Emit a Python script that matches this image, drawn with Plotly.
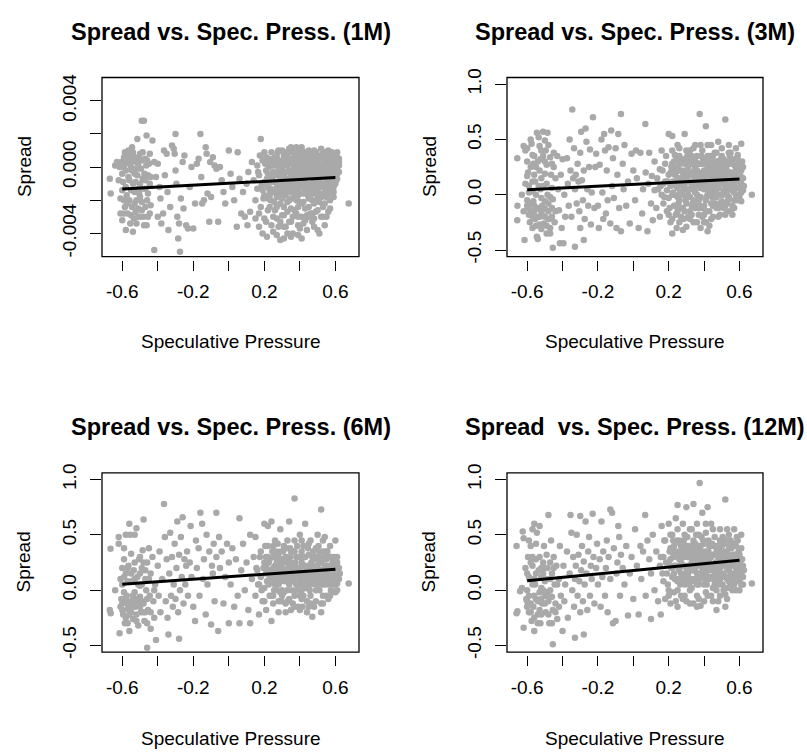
import plotly.graph_objects as go

# ---------------- data ----------------
fit_x = [-0.6, 0.6]
fit_1m = [-0.00132, -0.00063]
fit_3m = [0.046, 0.143]
fit_6m = [0.053, 0.19]
fit_12m = [0.085, 0.27]

x_ticks = [-0.6, -0.4, -0.2, 0.0, 0.2, 0.4, 0.6]
x_labels = ["-0.6", "", "-0.2", "", "0.2", "", "0.6"]
y_ticks_1m = [-0.004, -0.002, 0.0, 0.002, 0.004]
y_labels_1m = ["-0.004", "", "0.000", "", "0.004"]
y_ticks = [-0.5, 0.0, 0.5, 1.0]
y_labels = ["-0.5", "0.0", "0.5", "1.0"]

titles = ["Spread vs. Spec. Press. (1M)", "Spread vs. Spec. Press. (3M)",
          "Spread vs. Spec. Press. (6M)", "Spread\u00a0 vs. Spec. Press. (12M)"]

spread_1m = [
    (-0.67,-0.0007),(-0.665,-0.0016),(-0.64,0.0001),(-0.63,0.0003),(-0.615,0.0000),(-0.61,-0.0028),(-0.59,-0.0028),
    (-0.57,-0.0028),(-0.585,0.0009),(-0.6,-0.0004),(-0.595,-0.0009),(-0.58,-0.0012),(-0.575,-0.0017),(-0.59,-0.0020),
    (-0.565,-0.0006),(-0.56,0.0002),(-0.555,0.0005),(-0.545,-0.0002),(-0.54,-0.0010),(-0.53,-0.0015),(-0.545,-0.0024),
    (-0.535,-0.0031),(-0.525,-0.0027),(-0.52,-0.0020),(-0.515,-0.0005),(-0.51,0.0001),(-0.505,0.0006),(-0.5,-0.0010),
    (-0.495,-0.0001),(-0.49,0.0004),(-0.485,-0.0007),(-0.48,-0.0030),(-0.477,-0.0035),(-0.463,-0.0035),(-0.58,-0.0038),
    (-0.54,-0.0039),(-0.555,-0.0034),(-0.51,-0.0025),(-0.5,-0.0018),(-0.47,-0.0013),(-0.46,-0.0020),(-0.455,-0.0005),
    (-0.45,0.0002),(-0.445,-0.0010),(-0.44,-0.0023),(-0.515,0.0017),(-0.49,0.0028),(-0.478,0.0028),(-0.463,0.0019),
    (-0.43,0.0016),(-0.575,0.0004),(-0.56,0.0007),(-0.54,0.0009),(-0.52,0.0003),(-0.5,0.0008),(-0.47,0.0005),
    (-0.465,0.0001),(-0.475,-0.0004),(-0.6,-0.0014),(-0.61,-0.0019),(-0.585,-0.0024),(-0.56,-0.0020),(-0.55,-0.0014),
    (-0.525,-0.0009),(-0.53,0.0006),(-0.545,0.0012),(-0.565,0.0010),(-0.59,0.0006),(-0.605,0.0003),(-0.62,-0.0008),
    (-0.6,-0.0032),(-0.52,-0.0034),(-0.5,-0.0030),(-0.49,-0.0021),(-0.445,-0.0028),(-0.455,-0.0016),(-0.44,-0.0006),
    (-0.6,0.0000),(-0.58,-0.0002),(-0.56,-0.0008),(-0.55,0.0000),(-0.53,-0.0004),(-0.51,-0.0013),(-0.49,-0.0013),
    (-0.47,-0.0008),(-0.46,0.0004),(-0.57,-0.0022),(-0.55,-0.0029),(-0.53,-0.0022),(-0.51,-0.0030),(-0.49,-0.0026),
    (-0.47,-0.0024),(-0.59,0.0001),(-0.57,0.0008),(-0.55,0.0003),(-0.52,-0.0001),(-0.505,-0.0016),(-0.485,0.0009),
    (-0.455,-0.0030),(-0.445,0.0008),
    (-0.42,-0.0050),(-0.42,0.0003),(-0.41,-0.0006),(-0.4,0.0002),(-0.39,-0.0012),(-0.385,-0.0019),(-0.4,-0.0030),
    (-0.38,-0.0034),(-0.37,-0.0028),(-0.365,0.0010),(-0.35,0.0008),(-0.36,-0.0005),(-0.345,-0.0015),(-0.34,-0.0038),
    (-0.33,-0.0024),(-0.32,0.0013),(-0.31,0.0011),(-0.30,0.0020),(-0.305,0.0008),(-0.3,-0.0002),(-0.295,-0.0010),
    (-0.29,-0.0030),(-0.285,-0.0043),(-0.275,-0.0051),(-0.28,-0.0034),(-0.27,-0.0019),(-0.26,0.0003),(-0.25,0.0007),
    (-0.255,-0.0025),(-0.24,-0.0035),(-0.23,-0.0037),(-0.22,-0.0012),(-0.21,0.0000),(-0.2,-0.0037),(-0.19,-0.0022),
    (-0.18,0.0002),(-0.17,0.0005),(-0.16,0.0020),(-0.155,-0.0006),(-0.15,-0.0022),(-0.14,-0.0020),(-0.13,0.0012),
    (-0.125,0.0008),(-0.12,-0.0016),(-0.11,-0.0033),(-0.105,0.0003),(-0.1,-0.0018),(-0.09,0.0006),(-0.08,0.0001),
    (-0.07,-0.0001),(-0.06,-0.0033),(-0.05,0.0000),(-0.04,-0.0008),(-0.03,-0.0015),(-0.02,-0.0022),(0.0,0.0010),
    (0.01,-0.0004),(0.02,-0.0012),(0.03,-0.0020),(0.045,-0.0036),(0.05,0.0009),(0.06,-0.0007),(0.07,-0.0028),
    (0.08,-0.0015),(0.09,-0.0030),(0.1,-0.0010),(0.105,-0.0035),(0.11,-0.0003),(0.12,-0.0027),
    (0.13,0.0003),(0.14,-0.0008),(0.15,-0.0020),(0.15,-0.0031),(0.16,0.0001),(0.16,-0.0013),(0.17,-0.0036),
    (0.17,-0.0005),(0.18,0.0017),(0.18,-0.0024),(0.19,-0.0040),(0.19,0.0004),(0.2,-0.0009),(0.2,-0.0017),
    (0.2,-0.0031),(0.21,0.0006),(0.21,-0.0002),(0.215,-0.0042),(0.22,-0.0026),(0.22,-0.0012),(0.23,0.0002),
    (0.23,-0.0006),(0.235,-0.0020),(0.24,-0.0035),(0.24,0.0009),(0.25,-0.0015),(0.25,-0.0003),(0.25,-0.0039),
    (0.26,0.0006),(0.26,-0.0009),(0.26,-0.0026),(0.27,0.0002),(0.27,-0.0018),(0.27,-0.0031),(0.28,0.0010),
    (0.28,-0.0005),(0.28,-0.0013),(0.29,-0.0044),(0.29,-0.0022),(0.29,0.0003),(0.3,-0.0008),(0.3,-0.0001),
    (0.3,-0.0029),(0.31,0.0007),(0.31,-0.0016),(0.31,-0.0036),(0.32,-0.0003),(0.32,-0.0011),(0.32,0.0004),
    (0.33,-0.0021),(0.33,0.0001),(0.33,-0.0007),(0.34,0.0011),(0.34,-0.0033),(0.34,-0.0014),(0.35,-0.0004),
    (0.35,0.0005),(0.35,-0.0025),(0.36,-0.0010),(0.36,0.0002),(0.36,-0.0040),(0.37,-0.0018),(0.37,-0.0002),
    (0.37,0.0008),(0.38,0.0012),(0.38,-0.0006),(0.38,-0.0028),(0.39,-0.0013),(0.39,0.0003),(0.39,-0.0035),
    (0.4,-0.0001),(0.4,-0.0021),(0.4,0.0006),(0.41,-0.0008),(0.41,0.0012),(0.41,-0.0030),(0.42,-0.0003),
    (0.42,-0.0016),(0.42,0.0001),(0.43,-0.0025),(0.43,0.0004),(0.43,-0.0010),(0.44,-0.0038),(0.44,-0.0005),
    (0.44,0.0008),(0.45,-0.0019),(0.45,0.0000),(0.45,-0.0012),(0.46,0.0003),(0.46,-0.0028),(0.46,-0.0006),
    (0.47,-0.0015),(0.47,0.0006),(0.47,-0.0033),(0.48,-0.0002),(0.48,-0.0009),(0.48,-0.0022),(0.49,0.0002),
    (0.49,-0.0004),(0.49,0.0009),(0.5,-0.0014),(0.5,-0.0001),(0.5,-0.0026),(0.51,0.0005),(0.51,-0.0008),
    (0.51,-0.0040),(0.52,0.0011),(0.52,-0.0003),(0.52,-0.0018),(0.53,0.0001),(0.53,-0.0011),(0.53,-0.0030),
    (0.54,0.0004),(0.54,-0.0005),(0.54,-0.0022),(0.55,0.0008),(0.55,-0.0001),(0.55,-0.0013),(0.56,0.0002),
    (0.56,-0.0007),(0.56,-0.0027),(0.57,0.0006),(0.57,-0.0003),(0.57,-0.0016),(0.58,0.0000),(0.58,-0.0009),
    (0.58,0.0009),(0.59,0.0004),(0.59,-0.0005),(0.59,-0.0012),(0.6,0.0002),(0.6,-0.0002),(0.61,0.0006),
    (0.61,-0.0004),(0.62,0.0001),(0.62,-0.0003),(0.675,-0.0022),
    (0.27,0.0006),(0.3,0.0004),(0.33,0.0008),(0.36,0.0005),(0.39,0.0009),(0.42,0.0006),(0.45,0.0010),
    (0.48,0.0005),(0.5,0.0007),(0.53,0.0008),(0.56,0.0010),(0.58,0.0004),(0.6,0.0007),(0.4,0.0011),
    (0.35,0.0012),(0.28,-0.0002),(0.31,-0.0004),(0.34,-0.0002),(0.37,-0.0009),(0.4,-0.0011),(0.43,-0.0002),
    (0.46,-0.0002),(0.49,-0.0012),(0.52,-0.0006),(0.55,-0.0009),(0.58,-0.0003),(0.61,0.0000),(0.31,-0.0024),
    (0.35,-0.0019),(0.39,-0.0024),(0.42,-0.0034),(0.45,-0.0030),(0.48,-0.0031),(0.44,-0.0014),(0.38,-0.0015),
    (0.32,-0.0017),(0.26,-0.0014),(0.24,-0.0004),(0.22,-0.0019),(0.54,-0.0035),(0.57,-0.0025),(0.5,-0.0038),
    (0.41,-0.0043),(0.33,-0.0040),(0.28,-0.0036),
    (0.165,-0.0003),(0.175,0.0007),(0.185,-0.0011),(0.195,-0.0019),(0.205,0.0002),(0.215,-0.0007),(0.225,0.0005),
    (0.235,-0.0013),(0.245,0.0001),(0.255,-0.0021),(0.265,-0.0004),(0.275,0.0009),(0.285,-0.0010),(0.295,-0.0016),
    (0.305,0.0001),(0.315,-0.0008),(0.325,0.0009),(0.335,-0.0013),(0.345,0.0003),(0.355,-0.0007),(0.365,-0.0014),
    (0.375,0.0003),(0.385,-0.0020),(0.395,-0.0006),(0.405,0.0003),(0.415,-0.0012),(0.425,0.0009),(0.435,-0.0004),
    (0.445,-0.0017),(0.455,0.0005),(0.465,-0.0010),(0.475,0.0001),(0.485,-0.0016),(0.495,-0.0007),(0.505,0.0003),
    (0.515,-0.0012),(0.525,0.0006),(0.535,-0.0002),(0.545,-0.0010),(0.555,0.0004),(0.565,-0.0005),(0.575,0.0001),
    (0.585,-0.0013),(0.595,0.0006),(0.605,-0.0008),(0.615,0.0003),
    (0.17,-0.0028),(0.19,-0.0014),(0.21,-0.0033),(0.23,-0.0024),(0.25,-0.0030),(0.27,-0.0024),(0.29,-0.0033),
    (0.31,-0.0029),(0.33,-0.0027),(0.35,-0.0033),(0.37,-0.0026),(0.39,-0.0030),(0.41,-0.0022),(0.43,-0.0032),
    (0.45,-0.0024),(0.47,-0.0028),(0.49,-0.0027),(0.51,-0.0021),(0.53,-0.0024),(0.55,-0.0030),(0.57,-0.0020),
    (0.59,-0.0018),(0.6,-0.0010),(0.62,0.0005),
    (0.2,0.0009),(0.22,0.0003),(0.24,0.0004),(0.26,0.0001),(0.28,0.0004),(0.3,0.0010),(0.32,0.0008),(0.34,0.0005),
    (0.36,0.0009),(0.38,0.0006),(0.4,0.0003),(0.42,0.0009),(0.44,0.0003),(0.46,0.0008),(0.48,0.0010),(0.5,0.0003),
    (0.52,0.0007),(0.54,0.0009),(0.56,0.0006),(0.58,0.0006),(0.6,0.0004),(0.61,0.0009),
    (0.3,-0.0019),(0.34,-0.0020),(0.38,-0.0020),(0.42,-0.0021),(0.46,-0.0017),(0.5,-0.0019),(0.54,-0.0015),
    (0.58,-0.0016),(0.32,-0.0036),(0.36,-0.0030),(0.4,-0.0037),(0.44,-0.0029),(0.48,-0.0036),(0.52,-0.0030),
    (0.27,-0.0041),(0.31,-0.0043),(0.35,-0.0042),(0.39,-0.0041),
    (0.21,-0.0010),(0.22,-0.0004),(0.23,-0.0014),(0.24,-0.0009),(0.25,0.0005),(0.26,-0.0005),(0.27,-0.0012),
    (0.28,-0.0009),(0.29,-0.0006),(0.3,-0.0013),(0.31,-0.0011),(0.32,-0.0007),(0.33,-0.0003),(0.34,-0.0009),
    (0.35,-0.0015),(0.36,-0.0003),(0.37,-0.0013),(0.38,-0.0010),(0.39,-0.0003),(0.4,-0.0016),(0.41,-0.0004),
    (0.42,-0.0008),(0.43,-0.0006),(0.44,-0.0010),(0.45,-0.0004),(0.46,-0.0012),(0.47,-0.0004),(0.48,-0.0014),
    (0.49,-0.0009),(0.5,-0.0005),(0.51,-0.0001),(0.52,-0.0010),(0.53,-0.0006),(0.54,-0.0012),(0.55,-0.0005),
    (0.56,-0.0012),(0.57,-0.0008),(0.58,-0.0006),(0.59,-0.0009),(0.6,-0.0005),(0.61,-0.0007),(0.62,0.0003),
    (0.225,0.0000),(0.245,-0.0007),(0.265,0.0004),(0.285,0.0001),(0.305,-0.0005),(0.325,0.0003),(0.345,-0.0010),
    (0.365,0.0001),(0.385,0.0000),(0.405,-0.0009),(0.425,-0.0001),(0.445,0.0002),(0.465,0.0007),(0.485,0.0004),
    (0.505,-0.0009),(0.525,0.0000),(0.545,0.0001),(0.565,0.0008),(0.585,0.0002),(0.605,0.0000),
    (0.23,-0.0017),(0.27,-0.0015),(0.31,-0.0013),(0.35,-0.0012),(0.39,-0.0017),(0.43,-0.0014),(0.47,-0.0020),
    (0.51,-0.0016),(0.55,-0.0018),(0.59,-0.0015),
]

spread_3m = [
    (-0.656,0.33),(-0.655,-0.10),(-0.656,-0.23),(-0.615,-0.41),(-0.63,0.0),(-0.62,0.44),(-0.61,0.40),(-0.6,0.30),
    (-0.6,0.17),(-0.595,0.2),(-0.59,0.08),(-0.6,-0.05),(-0.595,-0.12),(-0.59,-0.18),(-0.585,-0.25),(-0.58,0.5),
    (-0.575,0.46),(-0.57,0.36),(-0.565,0.28),(-0.56,0.18),(-0.555,0.12),(-0.57,0.03),(-0.565,-0.06),(-0.56,-0.15),
    (-0.555,-0.22),(-0.55,-0.28),(-0.545,-0.38),(-0.54,-0.40),(-0.545,0.56),(-0.535,0.52),(-0.53,0.44),(-0.525,0.32),
    (-0.53,0.22),(-0.52,0.15),(-0.525,0.05),(-0.52,-0.03),(-0.515,-0.10),(-0.51,-0.19),(-0.505,-0.26),(-0.52,-0.31),
    (-0.51,0.57),(-0.5,0.49),(-0.495,0.40),(-0.49,0.27),(-0.5,0.19),(-0.49,0.10),(-0.485,0.0),(-0.48,-0.08),
    (-0.48,-0.15),(-0.475,-0.22),(-0.47,-0.30),(-0.47,-0.35),(-0.485,0.56),(-0.47,0.34),(-0.465,0.18),(-0.46,0.06),
    (-0.455,-0.48),(-0.46,-0.12),(-0.45,0.25),(-0.45,0.38),(-0.455,-0.04),(-0.445,-0.25),(-0.44,0.15),(-0.58,-0.08),
    (-0.57,-0.20),(-0.54,-0.12),(-0.53,-0.2),(-0.5,-0.2),(-0.49,-0.28),(-0.535,0.08),(-0.55,0.25),(-0.51,0.35),
    (-0.5,-0.06),(-0.57,0.12),(-0.61,0.1),(-0.62,-0.15),
    (-0.6,-0.1),(-0.58,-0.15),(-0.56,-0.1),(-0.54,-0.2),(-0.52,-0.15),(-0.5,-0.13),(-0.48,-0.22),(-0.46,-0.2),
    (-0.58,0.25),(-0.56,0.35),(-0.54,0.3),(-0.52,0.4),(-0.5,0.3),(-0.48,0.45),(-0.46,0.28),(-0.57,-0.3),
    (-0.53,-0.27),(-0.49,-0.35),(-0.59,0.02),(-0.55,0.0),(-0.51,0.08),(-0.47,-0.02),(-0.6,0.42),(-0.44,-0.15),
    (-0.43,0.35),(-0.425,0.05),(-0.42,-0.14),(-0.415,-0.44),(-0.41,0.18),(-0.405,-0.3),(-0.4,0.32),(-0.395,-0.44),
    (-0.39,0.0),(-0.385,-0.2),(-0.375,0.33),(-0.37,0.1),(-0.365,-0.1),(-0.36,0.5),(-0.355,0.22),(-0.35,-0.2),
    (-0.345,0.77),(-0.34,0.15),(-0.335,0.42),(-0.33,-0.47),(-0.33,0.05),(-0.325,0.18),(-0.32,-0.08),(-0.315,0.28),
    (-0.31,0.12),(-0.305,-0.15),(-0.3,-0.30),(-0.3,0.38),(-0.295,0.57),(-0.29,0.13),(-0.285,-0.05),(-0.28,-0.41),
    (-0.28,0.22),(-0.275,-0.22),(-0.27,0.6),(-0.265,0.48),(-0.26,0.05),(-0.255,-0.1),(-0.25,0.25),(-0.245,0.41),
    (-0.24,-0.27),(-0.235,0.02),(-0.228,0.70),(-0.22,-0.12),(-0.215,0.25),(-0.21,0.37),(-0.2,-0.1),(-0.195,-0.3),
    (-0.19,0.27),(-0.18,0.5),(-0.175,0.02),(-0.17,-0.22),(-0.165,0.55),(-0.16,0.4),(-0.155,-0.17),(-0.15,0.22),
    (-0.145,-0.05),(-0.14,0.43),(-0.13,-0.26),(-0.125,0.58),(-0.12,0.08),(-0.115,0.33),(-0.11,-0.03),(-0.1,0.42),
    (-0.095,-0.3),(-0.09,0.18),(-0.085,0.55),(-0.08,-0.12),(-0.07,0.73),(-0.07,-0.33),(-0.06,0.28),(-0.055,0.05),
    (-0.05,0.45),(-0.04,-0.1),(-0.03,0.12),(-0.02,-0.26),(-0.01,0.37),(0.0,0.22),(0.01,-0.05),(0.015,0.4),
    (0.02,0.15),(0.03,-0.3),(0.04,0.38),(0.05,-0.17),(0.055,0.05),(0.068,0.64),(0.07,0.2),(0.08,-0.33),
    (0.085,0.1),(0.09,0.38),(0.1,-0.08),(0.105,0.17),(0.11,-0.23),(0.12,0.3),(0.12,0.04),
    (0.13,-0.12),(0.135,0.15),(0.14,0.05),(0.15,0.23),(0.15,-0.2),(0.16,0.4),(0.16,0.0),(0.17,0.1),(0.17,-0.08),
    (0.18,0.28),(0.18,0.12),(0.19,-0.15),(0.19,0.04),(0.2,0.55),(0.2,0.18),(0.2,-0.03),(0.21,0.08),(0.21,-0.25),
    (0.22,0.53),(0.22,0.28),(0.22,-0.35),(0.225,0.12),(0.23,0.0),(0.23,-0.1),(0.235,0.36),(0.24,0.2),(0.24,-0.18),
    (0.245,-0.30),(0.25,0.06),(0.25,0.45),(0.26,0.15),(0.26,-0.05),(0.265,0.28),(0.27,-0.12),(0.27,0.09),
    (0.28,0.32),(0.28,0.0),(0.285,-0.22),(0.29,0.55),(0.29,0.18),(0.3,0.05),(0.3,-0.08),(0.3,-0.29),(0.31,0.25),
    (0.31,0.12),(0.32,0.4),(0.32,-0.02),(0.32,-0.15),(0.33,0.2),(0.33,0.08),(0.34,0.3),(0.34,-0.05),(0.34,-0.25),
    (0.35,0.15),(0.35,0.02),(0.35,0.45),(0.36,0.22),(0.36,-0.1),(0.36,0.35),(0.37,0.08),(0.37,-0.18),(0.375,0.73),
    (0.38,0.28),(0.38,0.12),(0.38,-0.02),(0.39,0.4),(0.39,0.18),(0.39,-0.12),(0.4,0.05),(0.4,0.3),(0.4,-0.25),
    (0.41,0.62),(0.41,0.2),(0.41,-0.05),(0.42,0.12),(0.42,0.35),(0.42,0.0),(0.43,0.25),(0.43,-0.15),(0.43,0.08),
    (0.44,0.45),(0.44,0.16),(0.44,-0.08),(0.45,0.28),(0.45,0.05),(0.45,-0.2),(0.46,0.2),(0.46,0.1),(0.46,0.38),
    (0.47,-0.02),(0.47,0.3),(0.47,0.14),(0.48,0.48),(0.48,0.06),(0.48,-0.12),(0.49,0.22),(0.49,0.0),(0.5,0.35),
    (0.5,0.12),(0.5,-0.06),(0.51,0.25),(0.51,0.04),(0.52,0.68),(0.52,-0.18),(0.52,0.16),(0.53,0.3),(0.53,0.08),
    (0.54,0.45),(0.54,-0.02),(0.54,0.2),(0.55,0.12),(0.55,0.28),(0.56,0.04),(0.56,-0.1),(0.56,0.18),(0.57,0.32),
    (0.57,0.1),(0.58,0.22),(0.58,0.42),(0.58,0.0),(0.59,0.14),(0.59,0.26),(0.6,0.06),(0.6,0.18),(0.61,0.46),
    (0.61,0.1),(0.61,0.22),(0.62,0.04),(0.62,0.15),(0.67,0.0),
    (0.25,0.25),(0.28,0.2),(0.31,0.0),(0.33,0.35),(0.35,0.25),(0.37,0.2),(0.39,0.06),(0.41,0.28),(0.43,0.18),
    (0.45,0.12),(0.47,0.22),(0.49,0.1),(0.51,0.18),(0.53,0.2),(0.55,0.05),(0.57,0.2),(0.59,0.06),(0.3,0.15),
    (0.34,0.12),(0.38,0.06),(0.42,0.25),(0.46,0.02),(0.5,0.25),(0.54,0.1),(0.58,0.12),(0.26,0.35),(0.3,0.4),
    (0.36,0.1),(0.4,0.15),(0.44,0.3),(0.48,0.3),(0.52,0.05),(0.56,0.3),(0.6,0.28),(0.27,-0.2),(0.33,-0.1),
    (0.37,-0.05),(0.41,-0.15),(0.45,-0.1),(0.49,-0.18),(0.53,-0.08),(0.57,-0.05),(0.44,0.0),(0.4,-0.1),(0.36,0.0),
    (0.155,0.08),(0.165,0.22),(0.175,-0.02),(0.185,0.35),(0.195,0.12),(0.205,-0.12),(0.215,0.25),(0.225,0.02),
    (0.235,0.18),(0.245,0.32),(0.255,-0.08),(0.265,0.12),(0.275,0.22),(0.285,0.05),(0.295,-0.05),(0.305,0.35),
    (0.315,0.05),(0.325,0.18),(0.335,-0.08),(0.345,0.22),(0.355,0.08),(0.365,0.28),(0.375,-0.1),(0.385,0.15),
    (0.395,0.32),(0.405,0.1),(0.415,-0.02),(0.425,0.22),(0.435,0.35),(0.445,0.06),(0.455,0.18),(0.465,-0.08),
    (0.475,0.26),(0.485,0.15),(0.495,0.32),(0.505,0.0),(0.515,0.1),(0.525,0.24),(0.535,-0.05),(0.545,0.35),
    (0.555,0.18),(0.565,0.08),(0.575,0.26),(0.585,-0.05),(0.595,0.2),(0.605,0.12),(0.615,0.3),(0.625,0.08),
    (0.2,-0.18),(0.24,-0.1),(0.28,-0.12),(0.32,-0.22),(0.36,-0.25),(0.4,-0.18),(0.44,-0.22),(0.48,-0.2),
    (0.52,-0.1),(0.56,-0.18),(0.6,-0.02),
    (0.22,0.4),(0.26,0.42),(0.3,0.3),(0.34,0.42),(0.38,0.45),(0.42,0.45),(0.46,0.28),(0.5,0.42),(0.54,0.38),
    (0.58,0.32),(0.21,0.2),(0.23,0.3),(0.27,0.3),(0.31,0.32),(0.35,0.3),(0.39,0.28),(0.43,0.32),(0.47,0.38),
    (0.51,0.32),(0.55,0.38),(0.59,0.36),(0.25,0.15),(0.29,0.1),(0.33,0.05),(0.37,0.1),(0.41,0.08),(0.45,0.18),
    (0.49,0.16),(0.53,0.14),(0.57,0.15),(0.61,0.02),(0.22,-0.22),(0.26,-0.25),(0.28,-0.32),(0.31,-0.2),
    (0.35,-0.12),(0.39,-0.2),(0.43,-0.28),(0.47,-0.12),(0.51,-0.12),(0.55,-0.15),(0.42,-0.33),(0.38,-0.3),
    (0.21,0.1),(0.22,0.0),(0.23,0.2),(0.24,0.08),(0.25,-0.02),(0.26,0.22),(0.27,0.15),(0.28,0.1),(0.29,0.28),
    (0.3,0.22),(0.31,0.18),(0.32,0.12),(0.33,0.28),(0.34,0.2),(0.35,0.08),(0.36,0.15),(0.37,0.28),(0.38,0.18),
    (0.39,0.1),(0.4,0.22),(0.41,0.12),(0.42,0.18),(0.43,0.0),(0.44,0.22),(0.45,0.35),(0.46,0.25),(0.47,0.05),
    (0.48,0.18),(0.49,0.28),(0.5,0.18),(0.51,0.1),(0.52,0.28),(0.53,0.0),(0.54,0.28),(0.55,0.2),(0.56,0.12),
    (0.57,0.02),(0.58,0.06),(0.59,0.32),(0.6,0.12),(0.61,0.16),(0.62,0.25),
    (0.225,0.25),(0.265,0.02),(0.305,-0.02),(0.345,0.05),(0.385,0.35),(0.425,0.05),(0.465,0.05),(0.505,0.2),
    (0.545,0.05),(0.585,0.18),(0.25,-0.15),(0.29,-0.15),(0.33,-0.18),(0.37,-0.12),(0.41,-0.25),(0.45,-0.03),
    (0.49,-0.08),(0.53,-0.15),(0.57,-0.12),(0.61,-0.06),
]

spread_6m = [
    (-0.666,0.375),(-0.67,-0.18),(-0.665,-0.21),(-0.64,0.0),(-0.615,-0.39),(-0.62,0.48),(-0.62,0.42),(-0.61,0.1),
    (-0.605,-0.08),(-0.6,-0.12),(-0.6,0.05),(-0.595,-0.22),(-0.59,0.28),(-0.59,0.38),(-0.585,-0.3),(-0.58,0.5),
    (-0.58,0.15),(-0.575,-0.05),(-0.57,-0.17),(-0.565,0.22),(-0.56,0.6),(-0.56,-0.37),(-0.555,0.5),(-0.55,0.33),
    (-0.55,-0.1),(-0.545,0.08),(-0.54,-0.26),(-0.535,0.18),(-0.53,0.5),(-0.53,-0.02),(-0.525,-0.15),(-0.52,0.56),
    (-0.515,0.12),(-0.51,-0.32),(-0.505,0.28),(-0.5,-0.06),(-0.5,0.04),(-0.495,-0.2),(-0.49,0.2),(-0.485,0.36),
    (-0.48,0.64),(-0.48,-0.12),(-0.475,-0.28),(-0.47,0.1),(-0.465,0.0),(-0.46,-0.52),(-0.46,0.25),(-0.455,-0.18),
    (-0.45,0.38),(-0.445,-0.05),(-0.44,0.15),(-0.44,-0.35),(-0.43,0.3),(-0.425,-0.1),(-0.42,-0.25),(-0.415,0.05),
    (-0.41,-0.45),(-0.61,-0.15),(-0.59,-0.02),(-0.57,0.08),(-0.56,-0.22),(-0.54,-0.05),(-0.52,-0.22),(-0.51,0.05),
    (-0.49,-0.1),(-0.47,-0.2),(-0.58,-0.25),(-0.6,0.2),(-0.53,0.25),(-0.55,0.15),(-0.5,0.15),(-0.46,-0.08),
    (-0.52,-0.08),(-0.575,-0.12),
    (-0.6,-0.18),(-0.58,-0.08),(-0.56,-0.12),(-0.54,-0.15),(-0.52,-0.28),(-0.5,-0.15),(-0.48,-0.2),(-0.46,-0.3),
    (-0.59,0.12),(-0.57,-0.3),(-0.55,-0.2),(-0.53,-0.1),(-0.51,-0.12),(-0.49,0.05),(-0.47,0.18),(-0.45,0.1),
    (-0.57,0.2),(-0.53,0.1),(-0.5,0.3),(-0.48,0.25),(-0.44,-0.2),(-0.42,0.0),
    (-0.4,0.22),(-0.395,-0.05),(-0.39,0.35),(-0.385,-0.2),(-0.375,0.1),(-0.365,0.78),(-0.36,0.48),(-0.355,-0.1),
    (-0.35,0.28),(-0.345,-0.25),(-0.34,-0.4),(-0.335,0.15),(-0.33,0.52),(-0.325,-0.05),(-0.32,0.3),(-0.315,-0.15),
    (-0.31,0.05),(-0.305,0.42),(-0.3,-0.08),(-0.295,0.2),(-0.29,0.62),(-0.285,-0.2),(-0.28,-0.44),(-0.28,0.32),
    (-0.275,0.0),(-0.27,0.48),(-0.265,0.12),(-0.26,0.66),(-0.255,-0.12),(-0.25,0.28),(-0.245,0.05),(-0.24,0.22),
    (-0.235,0.35),(-0.23,-0.05),(-0.22,0.25),(-0.215,0.58),(-0.21,0.12),(-0.2,-0.15),(-0.19,-0.28),(-0.185,0.45),
    (-0.18,0.2),(-0.17,0.38),(-0.165,-0.05),(-0.16,0.7),(-0.15,0.6),(-0.145,0.1),(-0.14,0.28),(-0.13,-0.22),
    (-0.125,0.5),(-0.12,0.05),(-0.11,0.35),(-0.1,-0.31),(-0.095,0.22),(-0.09,0.15),(-0.085,0.42),(-0.08,-0.1),
    (-0.07,0.7),(-0.07,0.3),(-0.06,-0.37),(-0.055,0.48),(-0.05,0.2),(-0.04,0.35),(-0.03,-0.12),(-0.02,0.12),
    (-0.01,0.42),(0.0,-0.3),(0.0,0.25),(0.01,0.05),(0.02,0.38),(0.03,-0.15),(0.04,0.28),(0.05,-0.05),(0.06,0.65),
    (0.06,-0.3),(0.07,0.18),(0.08,0.42),(0.09,0.0),(0.1,0.25),(0.11,-0.18),(0.12,-0.3),(0.12,0.5),
    (0.13,0.1),(0.14,0.3),(0.15,-0.05),(0.15,0.48),(0.16,0.18),(0.17,-0.22),(0.17,0.05),(0.18,0.35),(0.18,0.12),
    (0.19,-0.1),(0.2,0.6),(0.2,0.25),(0.2,0.02),(0.21,0.15),(0.21,-0.18),(0.22,0.58),(0.22,0.4),(0.22,0.08),
    (0.23,-0.05),(0.23,0.28),(0.24,0.62),(0.24,-0.28),(0.24,0.18),(0.25,0.1),(0.25,-0.12),(0.26,0.45),(0.26,0.22),
    (0.27,0.0),(0.27,0.32),(0.28,0.15),(0.28,-0.2),(0.29,0.55),(0.29,0.08),(0.3,0.28),(0.3,-0.05),(0.31,0.18),
    (0.31,0.4),(0.32,0.1),(0.32,-0.12),(0.33,0.25),(0.33,0.0),(0.34,0.62),(0.34,0.15),(0.35,-0.18),(0.35,0.35),
    (0.36,0.08),(0.36,0.22),(0.37,0.83),(0.37,0.45),(0.37,-0.05),(0.38,0.12),(0.38,0.3),(0.39,-0.15),(0.39,0.2),
    (0.4,0.05),(0.4,0.5),(0.41,0.25),(0.41,-0.08),(0.42,0.15),(0.42,0.4),(0.43,0.6),(0.43,0.02),(0.44,0.2),
    (0.44,-0.2),(0.45,0.32),(0.45,0.1),(0.46,-0.05),(0.46,0.45),(0.47,0.18),(0.47,-0.24),(0.48,0.28),(0.48,0.06),
    (0.49,0.38),(0.49,-0.1),(0.5,0.15),(0.5,0.5),(0.51,0.0),(0.51,0.25),(0.52,0.73),(0.52,-0.12),(0.52,0.1),
    (0.53,0.35),(0.53,0.18),(0.54,0.05),(0.54,0.48),(0.55,0.22),(0.55,-0.05),(0.56,0.12),(0.56,0.3),(0.57,0.08),
    (0.57,0.4),(0.58,0.18),(0.58,-0.02),(0.59,0.1),(0.59,0.25),(0.6,0.45),(0.6,0.14),(0.61,0.06),(0.61,0.2),
    (0.62,0.1),(0.675,0.06),
    (0.26,0.1),(0.29,0.2),(0.32,0.3),(0.35,0.1),(0.38,0.2),(0.41,0.12),(0.44,0.1),(0.47,0.08),(0.5,0.28),
    (0.53,0.08),(0.56,0.2),(0.59,0.16),(0.28,0.05),(0.31,-0.02),(0.34,0.05),(0.37,0.15),(0.4,0.3),(0.43,0.22),
    (0.46,0.15),(0.49,0.12),(0.52,0.25),(0.55,0.12),(0.58,0.3),(0.27,0.2),(0.3,0.12),(0.33,0.15),(0.36,0.35),
    (0.39,0.05),(0.42,-0.05),(0.45,0.22),(0.48,0.15),(0.51,0.12),(0.54,0.15),(0.57,0.22),(0.6,0.05),(0.25,0.3),
    (0.34,-0.08),(0.4,-0.18),(0.46,-0.12),(0.53,-0.05),
    (0.155,0.2),(0.165,0.05),(0.175,0.3),(0.185,0.0),(0.195,0.2),(0.205,0.4),(0.215,0.08),(0.225,0.25),
    (0.235,0.12),(0.245,0.35),(0.255,0.0),(0.265,0.15),(0.275,0.42),(0.285,0.25),(0.295,-0.1),(0.305,0.15),
    (0.315,0.08),(0.325,0.38),(0.335,0.2),(0.345,0.3),(0.355,0.0),(0.365,0.12),(0.375,0.25),(0.385,0.4),
    (0.395,0.1),(0.405,0.2),(0.415,-0.15),(0.425,0.3),(0.435,0.12),(0.445,0.38),(0.455,0.0),(0.465,0.25),
    (0.475,0.35),(0.485,0.1),(0.495,0.22),(0.505,0.4),(0.515,0.18),(0.525,0.05),(0.535,0.28),(0.545,0.1),
    (0.555,0.35),(0.565,0.2),(0.575,0.0),(0.585,0.12),(0.595,0.3),(0.605,0.2),(0.615,0.12),(0.625,0.15),
    (0.2,-0.1),(0.24,-0.05),(0.28,-0.1),(0.32,-0.2),(0.36,-0.12),(0.4,-0.05),(0.44,-0.1),(0.48,-0.15),
    (0.52,-0.2),(0.56,-0.08),(0.6,-0.02),
    (0.21,0.3),(0.25,0.4),(0.29,0.35),(0.33,0.45),(0.37,0.35),(0.41,0.45),(0.45,0.42),(0.49,0.3),(0.53,0.45),
    (0.57,0.3),(0.61,0.3),(0.23,0.1),(0.27,0.1),(0.31,0.25),(0.35,0.2),(0.39,0.3),(0.43,0.15),(0.47,0.3),
    (0.51,0.35),(0.55,0.28),(0.59,0.05),(0.22,0.18),(0.26,0.05),(0.3,0.0),(0.34,0.22),(0.38,0.05),(0.42,0.08),
    (0.46,0.05),(0.5,0.05),(0.54,0.22),(0.58,0.08),
    (0.21,0.22),(0.22,0.3),(0.23,0.18),(0.24,0.08),(0.25,0.2),(0.26,0.3),(0.27,0.25),(0.28,0.3),(0.29,0.12),
    (0.3,0.2),(0.31,0.1),(0.32,0.18),(0.33,0.3),(0.34,0.1),(0.35,0.25),(0.36,0.15),(0.37,0.22),(0.38,0.0),
    (0.39,0.12),(0.4,0.15),(0.41,0.35),(0.42,0.22),(0.43,0.3),(0.44,0.05),(0.45,0.15),(0.46,0.22),(0.47,0.12),
    (0.48,0.2),(0.49,0.05),(0.5,0.22),(0.51,0.3),(0.52,0.18),(0.53,0.12),(0.54,0.3),(0.55,0.15),(0.56,0.05),
    (0.57,0.15),(0.58,0.22),(0.59,0.2),(0.6,0.1),(0.61,0.25),(0.62,0.2),
    (0.225,0.05),(0.265,0.35),(0.305,0.35),(0.345,0.38),(0.385,0.15),(0.425,0.05),(0.465,0.1),(0.505,0.08),
    (0.545,0.35),(0.585,0.25),(0.25,-0.05),(0.29,-0.02),(0.33,-0.1),(0.37,-0.15),(0.41,0.0),(0.45,-0.15),
    (0.49,0.0),(0.53,-0.12),(0.57,-0.05),(0.61,0.0),
]

spread_12m = [
    (-0.66,0.4),(-0.66,-0.21),(-0.655,-0.19),(-0.62,-0.34),(-0.56,-0.37),(-0.625,0.53),(-0.62,0.47),(-0.64,-0.01),
    (-0.63,0.02),(-0.61,0.2),(-0.605,-0.08),(-0.6,0.15),(-0.6,-0.1),(-0.595,0.3),(-0.59,-0.05),(-0.59,-0.2),
    (-0.585,0.1),(-0.58,0.4),(-0.575,-0.28),(-0.57,0.55),(-0.57,0.22),(-0.565,-0.15),(-0.56,0.6),(-0.555,0.05),
    (-0.55,0.28),(-0.55,-0.08),(-0.545,0.52),(-0.54,-0.22),(-0.535,0.18),(-0.53,0.58),(-0.53,-0.02),(-0.525,-0.3),
    (-0.52,0.12),(-0.515,-0.12),(-0.51,0.25),(-0.505,0.4),(-0.5,-0.05),(-0.5,0.08),(-0.495,-0.2),(-0.49,0.32),
    (-0.485,0.2),(-0.48,0.68),(-0.48,-0.1),(-0.475,-0.3),(-0.47,0.0),(-0.465,0.45),(-0.46,0.15),(-0.455,-0.49),
    (-0.455,-0.18),(-0.45,0.3),(-0.445,0.05),(-0.44,-0.12),(-0.435,0.22),(-0.43,-0.26),(-0.42,0.1),(-0.415,0.4),
    (-0.41,-0.05),(-0.4,-0.37),(-0.6,0.0),(-0.58,-0.12),(-0.56,0.1),(-0.54,-0.1),(-0.52,0.2),(-0.51,0.0),
    (-0.49,-0.02),(-0.47,0.1),(-0.58,0.25),(-0.57,0.05),(-0.53,-0.18),(-0.55,0.15),(-0.5,0.2),(-0.46,-0.06),
    (-0.59,0.12),(-0.52,-0.08),
    (-0.6,-0.15),(-0.58,-0.2),(-0.56,-0.05),(-0.54,-0.3),(-0.52,-0.22),(-0.5,-0.12),(-0.48,-0.22),(-0.46,-0.3),
    (-0.44,-0.2),(-0.59,0.45),(-0.57,0.3),(-0.55,0.42),(-0.53,0.3),(-0.51,0.15),(-0.49,0.1),(-0.47,0.25),
    (-0.45,0.2),(-0.43,0.05),(-0.56,-0.25),(-0.52,0.02),(-0.48,-0.05),(-0.42,-0.15),
    (-0.395,0.22),(-0.39,-0.1),(-0.385,0.05),(-0.375,0.35),(-0.37,-0.25),(-0.36,0.15),(-0.355,0.68),(-0.35,0.52),
    (-0.345,0.0),(-0.34,0.3),(-0.335,-0.15),(-0.33,-0.43),(-0.33,0.1),(-0.325,0.22),(-0.32,0.5),(-0.315,-0.05),
    (-0.31,0.32),(-0.305,0.08),(-0.3,0.67),(-0.3,-0.2),(-0.295,0.18),(-0.29,0.4),(-0.285,-0.1),(-0.28,-0.4),
    (-0.28,0.26),(-0.275,0.05),(-0.27,0.62),(-0.265,0.15),(-0.26,-0.18),(-0.255,0.35),(-0.25,0.48),(-0.245,-0.05),
    (-0.24,0.22),(-0.235,0.1),(-0.23,0.69),(-0.225,0.3),(-0.22,-0.12),(-0.21,0.2),(-0.205,0.42),(-0.2,0.05),
    (-0.19,0.28),(-0.185,-0.15),(-0.18,0.62),(-0.175,0.12),(-0.17,0.35),(-0.16,-0.05),(-0.155,0.2),(-0.15,0.45),
    (-0.145,-0.2),(-0.14,0.3),(-0.13,0.73),(-0.13,0.1),(-0.12,0.7),(-0.115,-0.3),(-0.11,0.38),(-0.1,-0.28),
    (-0.095,0.15),(-0.09,0.25),(-0.085,0.58),(-0.08,0.48),(-0.075,-0.05),(-0.07,0.32),(-0.06,0.2),(-0.05,0.05),
    (-0.04,0.4),(-0.03,-0.23),(-0.02,0.15),(-0.01,0.3),(0.0,-0.08),(0.01,0.55),(0.02,0.22),(0.03,-0.22),
    (0.04,0.4),(0.045,0.1),(0.055,0.35),(0.067,0.68),(0.07,-0.05),(0.08,0.45),(0.09,0.28),(0.1,-0.26),(0.1,0.15),
    (0.11,0.5),(0.12,0.0),(0.13,0.35),(0.14,-0.1),(0.155,-0.22),(0.15,0.22),
    (0.16,0.58),(0.17,0.08),(0.17,0.3),(0.18,-0.08),(0.18,0.45),(0.19,0.15),(0.2,0.6),(0.2,0.25),(0.2,0.0),
    (0.21,0.38),(0.21,-0.12),(0.22,0.12),(0.22,0.5),(0.23,0.22),(0.23,-0.02),(0.24,0.35),(0.24,0.65),(0.25,0.77),
    (0.25,0.08),(0.25,-0.15),(0.26,0.28),(0.26,0.45),(0.27,0.15),(0.27,-0.05),(0.28,0.6),(0.28,0.35),(0.29,0.05),
    (0.29,0.22),(0.3,0.75),(0.3,-0.1),(0.3,0.4),(0.31,0.15),(0.31,0.3),(0.32,0.55),(0.32,0.0),(0.33,0.25),
    (0.33,0.1),(0.34,0.78),(0.34,0.45),(0.34,-0.12),(0.35,0.2),(0.35,0.35),(0.36,0.05),(0.36,0.6),(0.37,0.28),
    (0.37,0.15),(0.375,0.97),(0.38,-0.14),(0.38,0.4),(0.39,0.2),(0.39,0.7),(0.4,0.05),(0.4,0.3),(0.41,0.52),
    (0.41,0.15),(0.42,-0.05),(0.42,0.75),(0.42,0.25),(0.43,0.4),(0.43,0.1),(0.44,0.6),(0.44,0.2),(0.45,-0.1),
    (0.45,0.32),(0.46,0.15),(0.46,0.48),(0.47,-0.18),(0.47,0.25),(0.48,0.05),(0.48,0.38),(0.49,0.2),(0.49,0.55),
    (0.5,0.12),(0.5,0.3),(0.51,0.42),(0.51,0.0),(0.52,0.82),(0.52,-0.04),(0.52,0.22),(0.53,0.35),(0.53,0.1),
    (0.54,0.5),(0.54,0.18),(0.55,0.28),(0.55,0.05),(0.56,0.4),(0.56,0.15),(0.57,0.55),(0.57,0.22),(0.58,0.1),
    (0.58,0.32),(0.59,0.45),(0.59,0.18),(0.6,0.08),(0.6,0.25),(0.61,0.5),(0.61,0.15),(0.62,0.05),(0.62,0.22),
    (0.67,0.06),
    (0.26,0.18),(0.29,0.35),(0.32,0.2),(0.35,0.1),(0.38,0.25),(0.41,0.35),(0.44,0.3),(0.47,0.1),(0.5,0.22),
    (0.53,0.28),(0.56,0.25),(0.59,0.3),(0.28,0.1),(0.31,0.22),(0.34,0.32),(0.37,0.05),(0.4,0.18),(0.43,0.25),
    (0.46,0.32),(0.49,0.1),(0.52,0.35),(0.55,0.15),(0.58,0.2),(0.27,0.4),(0.3,0.2),(0.33,0.4),(0.36,0.15),
    (0.39,0.35),(0.42,0.12),(0.45,0.2),(0.48,0.25),(0.51,0.15),(0.54,0.3),(0.57,0.12),(0.6,0.18),(0.24,0.1),
    (0.36,-0.05),(0.41,-0.02),(0.47,0.0),(0.53,0.02),(0.58,0.0),
    (0.155,0.3),(0.165,0.15),(0.175,0.45),(0.185,0.25),(0.195,0.05),(0.205,0.35),(0.215,0.2),(0.225,0.3),
    (0.235,0.1),(0.245,0.45),(0.255,0.2),(0.265,0.05),(0.275,0.3),(0.285,0.45),(0.295,0.15),(0.305,0.3),
    (0.315,0.05),(0.325,0.4),(0.335,0.18),(0.345,0.25),(0.355,0.5),(0.365,0.3),(0.375,0.1),(0.385,0.32),
    (0.395,0.45),(0.405,0.22),(0.415,0.05),(0.425,0.35),(0.435,0.2),(0.445,0.42),(0.455,0.1),(0.465,0.25),
    (0.475,0.4),(0.485,0.15),(0.495,0.3),(0.505,0.05),(0.515,0.25),(0.525,0.45),(0.535,0.2),(0.545,0.12),
    (0.555,0.38),(0.565,0.1),(0.575,0.3),(0.585,0.15),(0.595,0.35),(0.605,0.12),(0.615,0.28),(0.625,0.18),
    (0.2,-0.05),(0.24,-0.1),(0.28,-0.08),(0.32,-0.12),(0.36,-0.15),(0.4,-0.1),(0.44,-0.05),(0.48,-0.1),
    (0.52,-0.15),(0.56,0.0),(0.6,0.0),
    (0.21,0.5),(0.25,0.55),(0.29,0.5),(0.33,0.55),(0.37,0.5),(0.41,0.6),(0.45,0.55),(0.49,0.45),(0.53,0.55),
    (0.57,0.42),(0.61,0.38),(0.23,0.4),(0.27,0.25),(0.31,0.4),(0.35,0.28),(0.39,0.12),(0.43,0.3),(0.47,0.35),
    (0.51,0.28),(0.55,0.22),(0.59,0.1),(0.22,0.2),(0.26,0.35),(0.3,0.1),(0.34,0.18),(0.38,0.35),(0.42,0.2),
    (0.46,0.22),(0.5,0.4),(0.54,0.4),(0.58,0.25),
    (0.21,0.28),(0.22,0.35),(0.23,0.15),(0.24,0.22),(0.25,0.3),(0.26,0.1),(0.27,0.35),(0.28,0.22),(0.29,0.3),
    (0.3,0.32),(0.31,0.1),(0.32,0.35),(0.33,0.3),(0.34,0.08),(0.35,0.42),(0.36,0.22),(0.37,0.4),(0.38,0.15),
    (0.39,0.28),(0.4,0.42),(0.41,0.25),(0.42,0.32),(0.43,0.18),(0.44,0.12),(0.45,0.4),(0.46,0.05),(0.47,0.18),
    (0.48,0.3),(0.49,0.35),(0.5,0.05),(0.51,0.32),(0.52,0.12),(0.53,0.2),(0.54,0.08),(0.55,0.45),(0.56,0.32),
    (0.57,0.32),(0.58,0.4),(0.59,0.22),(0.6,0.32),(0.61,0.22),(0.62,0.12),
    (0.225,0.45),(0.265,0.42),(0.305,0.48),(0.345,0.4),(0.385,0.48),(0.425,0.45),(0.465,0.4),(0.505,0.48),
    (0.545,0.42),(0.585,0.48),(0.25,0.0),(0.29,-0.05),(0.33,0.02),(0.37,-0.08),(0.41,0.08),(0.45,0.02),
    (0.49,-0.05),(0.53,-0.08),(0.57,0.05),(0.61,0.05),
]

# ---------------- layout ----------------
W, H = 807, 755
FONT = "Liberation Sans, Arial, Helvetica, sans-serif"
GRAY = "#A9A9A9"

panels = [
    dict(pts=spread_1m, fit=fit_1m, box=(102, 70, 359, 253), yr=[-0.0054, 0.0054],
         ytv=y_ticks_1m, ytt=y_labels_1m, title_y=23.5, xt_y=340),
    dict(pts=spread_3m, fit=fit_3m, box=(507, 70, 763, 253), yr=[-0.56, 1.06],
         ytv=y_ticks, ytt=y_labels, title_y=23.5, xt_y=340),
    dict(pts=spread_6m, fit=fit_6m, box=(102, 474, 359, 657), yr=[-0.56, 1.06],
         ytv=y_ticks, ytt=y_labels, title_y=427, xt_y=745),
    dict(pts=spread_12m, fit=fit_12m, box=(507, 474, 763, 657), yr=[-0.56, 1.06],
         ytv=y_ticks, ytt=y_labels, title_y=427, xt_y=745),
]

fig = go.Figure()
annotations = []
shapes = []
layout_axes = {}

for i, p in enumerate(panels):
    k = "" if i == 0 else str(i + 1)
    xs = [a for a, b in p["pts"]]
    ys = [b for a, b in p["pts"]]
    fig.add_trace(go.Scatter(x=xs, y=ys, mode="markers", xaxis="x" + k, yaxis="y" + k,
                             marker=dict(color=GRAY, size=6.5, line=dict(width=0)),
                             showlegend=False, hoverinfo="skip"))
    fig.add_trace(go.Scatter(x=fit_x, y=p["fit"], mode="lines", xaxis="x" + k, yaxis="y" + k,
                             line=dict(color="black", width=3), showlegend=False, hoverinfo="skip"))
    x0, y0, x1, y1 = p["box"]
    xd = [x0 / W, x1 / W]
    yd = [1 - y1 / H, 1 - y0 / H]
    layout_axes["xaxis" + k] = dict(
        domain=xd, range=[-0.714, 0.733], anchor="free", position=1 - (y1 + 3) / H,
        showline=False, showgrid=False, zeroline=False,
        ticks="outside", ticklen=10, tickwidth=1, tickcolor="black",
        tickvals=x_ticks, ticktext=x_labels, ticklabelstandoff=5,
        tickfont=dict(family=FONT, size=19, color="black"))
    layout_axes["yaxis" + k] = dict(
        domain=yd, range=p["yr"], anchor="x" + k,
        showline=False, showgrid=False, zeroline=False,
        ticks="outside", ticklen=11, tickwidth=1, tickcolor="black",
        tickvals=p["ytv"], ticktext=p["ytt"], tickangle=-90, ticklabelstandoff=6,
        tickfont=dict(family=FONT, size=19, color="black"))
    shapes.append(dict(type="rect", xref="x" + k + " domain", yref="y" + k + " domain",
                       x0=0, x1=1, y0=0, y1=1, line=dict(color="black", width=1.3)))
    cx = (x0 + x1) / 2
    annotations.append(dict(text="<b>" + titles[i] + "</b>", x=cx / W, y=1 - p["title_y"] / H,
                            xref="paper", yref="paper", xanchor="center", yanchor="middle",
                            showarrow=False, font=dict(family=FONT, size=23.5, color="black")))
    annotations.append(dict(text="Speculative Pressure", x=cx / W, y=1 - p["xt_y"] / H,
                            xref="paper", yref="paper", xanchor="center", yanchor="middle",
                            showarrow=False, font=dict(family=FONT, size=19, color="black")))
    annotations.append(dict(text="Spread", x=(x0 - 78) / W, y=1 - ((y0 + y1) / 2) / H,
                            xref="paper", yref="paper", xanchor="center", yanchor="middle",
                            textangle=-90, showarrow=False,
                            font=dict(family=FONT, size=19, color="black")))

fig.update_layout(width=W, height=H, margin=dict(l=0, r=0, t=0, b=0),
                  paper_bgcolor="white", plot_bgcolor="white",
                  annotations=annotations, shapes=shapes, showlegend=False, **layout_axes)

fig.write_html("out.html", config={"displayModeBar": False},
               post_script="document.body.style.margin='0';document.body.style.overflow='hidden';")
